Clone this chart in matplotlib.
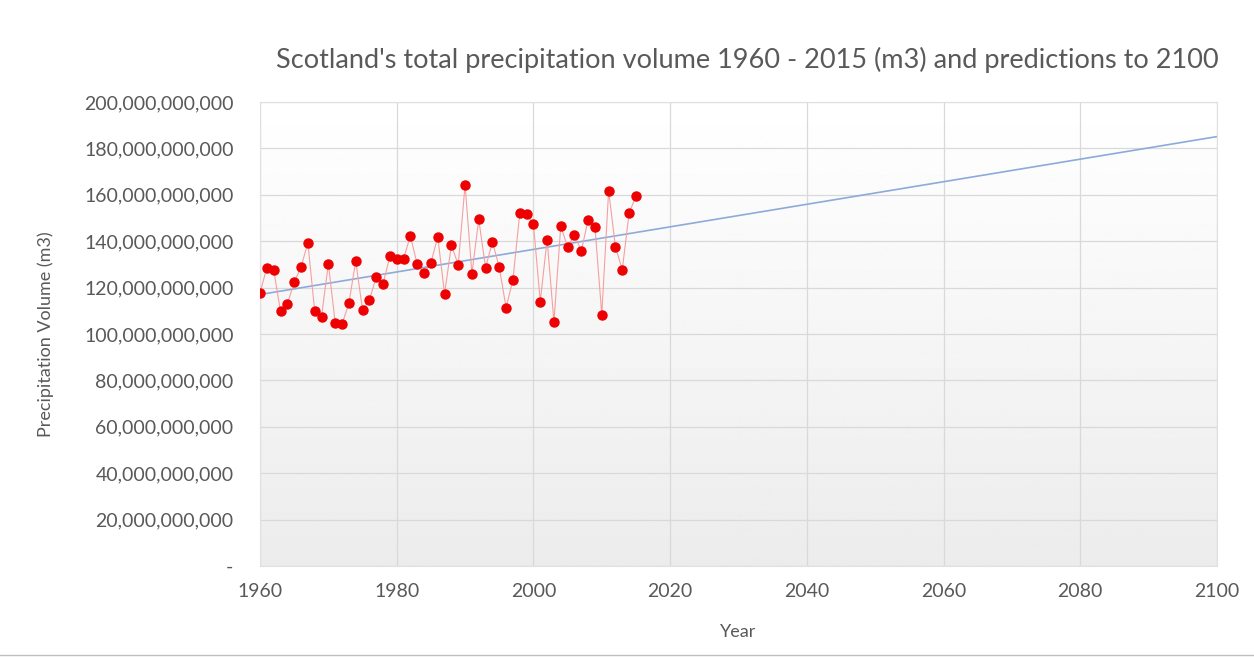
import numpy as np
import matplotlib.pyplot as plt
from matplotlib.ticker import FuncFormatter

# Annual precipitation volume for Scotland (billion m3)
years = list(range(1960, 2016))
volume_bn = [117.7, 128.6, 127.8, 109.7, 112.9, 122.3, 128.8, 139.3, 110.0, 107.5,
             130.3, 104.9, 104.2, 113.2, 131.4, 110.4, 114.6, 124.5, 121.6, 133.5,
             132.5, 132.5, 142.3, 130.0, 126.2, 130.6, 141.9, 117.3, 138.3, 129.9,
             164.3, 126.0, 149.4, 128.6, 139.7, 128.8, 111.4, 123.3, 152.0, 151.6,
             147.4, 114.0, 140.7, 105.2, 146.5, 137.5, 142.6, 135.8, 149.1, 146.2,
             108.3, 161.7, 137.5, 127.7, 152.3, 159.3]
forecast_end = 2100

x = np.array(years)
y = np.array(volume_bn) * 1e9

# linear trendline, extended forward to 2100
slope, intercept = np.polyfit(x, y, 1)
trend_x = np.array([years[0], forecast_end])
trend_y = slope * trend_x + intercept

plt.rcParams['font.family'] = ['Lato', 'DejaVu Sans']

W, H = 1254, 657
fig = plt.figure(figsize=(W / 100, H / 100), dpi=100)
ax = fig.add_axes([260 / W, 1 - 566 / H, (1217 - 260) / W, (566 - 102) / H])

# white-to-grey gradient in the plot area
grad = np.linspace(1.0, 0.925, 256).reshape(-1, 1)
ax.imshow(grad, cmap='gray', vmin=0, vmax=1, aspect='auto',
          extent=[0, 1, 0, 1], transform=ax.transAxes, zorder=0)

ax.plot(x, y, color='#f4a0a0', lw=0.8, zorder=3)
ax.plot(x, y, 'o', color='#ee0000', markersize=6.5, zorder=4)
ax.plot(trend_x, trend_y, color='#8eaadb', lw=1.2, zorder=2)

ax.set_xlim(1960, 2100)
ax.set_ylim(0, 200e9)
ax.set_xticks(range(1960, 2101, 20))
ax.set_yticks(np.arange(0, 200e9 + 1, 20e9))
ax.yaxis.set_major_formatter(FuncFormatter(lambda v, p: '-' if v == 0 else f'{v:,.0f}'))
ax.grid(True, color='#d9d9d9', lw=0.9, zorder=1)
ax.set_axisbelow(True)
for s in ax.spines.values():
    s.set_color('#e0e0e0')
    s.set_linewidth(0.8)
ax.tick_params(length=0, labelsize=14, colors='#595959')
ax.tick_params(axis='y', pad=19)
ax.tick_params(axis='x', pad=12)

ax.set_xlabel('Year', fontsize=13, color='#595959')
ax.set_ylabel('Precipitation Volume (m3)', fontsize=13, color='#595959')
ax.xaxis.set_label_coords((738 - 260) / (1217 - 260), -(624 - 566) / (566 - 102))
ax.yaxis.set_label_coords(-(260 - 54) / (1217 - 260), 0.5)
fig.text(747 / W, 1 - 60 / H,
         "Scotland's total precipitation volume 1960 - 2015 (m3) and predictions to 2100",
         ha='center', va='center', fontsize=19.5, color='#595959')

# chart border line at bottom
fig.add_artist(plt.Line2D([0, 1], [2 / H, 2 / H], color='#bfbfbf', lw=1))

fig.savefig('out.png', dpi=100)
